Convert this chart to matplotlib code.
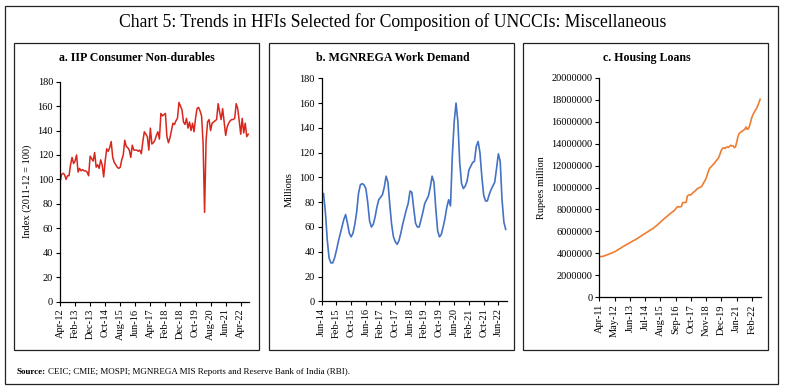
"""Chart 5: Trends in HFIs selected for composition of UNCCIs - miscellaneous."""
import matplotlib
matplotlib.use("Agg")
import matplotlib.pyplot as plt
from matplotlib.patches import Rectangle
from matplotlib.ticker import FuncFormatter

plt.rcParams["font.family"] = ["Liberation Serif", "DejaVu Serif"]

MONTHS = ["Jan", "Feb", "Mar", "Apr", "May", "Jun", "Jul", "Aug", "Sep", "Oct", "Nov", "Dec"]

# a. IIP consumer non-durables, monthly from Apr-12
IIP_START = (2012, 4)
IIP_VALUES = [
    97, 104, 105, 104, 100, 103, 103, 112, 118, 113, 115, 120,
    106, 109, 107, 108, 107, 107, 106, 103, 119, 117, 115, 122,
    110, 112, 109, 116, 112, 102, 115, 125, 123, 126, 131, 118,
    114, 112, 110, 109, 110, 116, 120, 132, 127, 126, 124, 118,
    128, 124, 124, 124, 123, 124, 121, 131, 139, 137, 135, 124,
    142, 129, 130, 132, 136, 139, 133, 154, 152, 153, 154, 135,
    130, 134, 140, 146, 145, 148, 150, 163, 160, 157, 147, 145,
    150, 142, 147, 140, 146, 139, 150, 158, 159, 156, 152, 130,
    73, 132, 147, 149, 140, 146, 147, 148, 149, 162, 155, 149,
    158, 147, 136, 143, 146, 148, 149, 149, 150, 162, 158, 148,
    137, 150, 138, 146, 135, 137,
]
IIP_TICK_STEP = 10

# b. MGNREGA work demand (millions), monthly from Jun-14
MGN_START = (2014, 6)
MGN_VALUES = [
    87, 87, 72, 50, 35, 31, 31, 35, 41, 48, 54, 60,
    66, 70, 63, 55, 52, 55, 62, 72, 87, 94, 95, 94,
    91, 80, 65, 60, 62, 68, 76, 82, 84, 86, 92, 101,
    96, 78, 62, 52, 48, 46, 49, 55, 62, 68, 74, 79,
    89, 88, 75, 63, 60, 60, 66, 72, 79, 82, 85, 92,
    101, 96, 75, 57, 52, 54, 60, 67, 76, 82, 77, 118,
    145, 160, 145, 112, 95, 91, 93, 97, 106, 109, 112, 113,
    125, 129, 120, 101, 86, 81, 81, 86, 90, 93, 96, 107,
    119, 113, 82, 64, 58,
]
MGN_TICK_STEP = 8

# c. Housing loans (rupees million, in units of 1e6), monthly from Apr-11
HL_START = (2011, 4)
HL_VALUES = [
    3.70, 3.70, 3.71, 3.73, 3.76, 3.80, 3.85, 3.88, 3.92, 3.96, 4.00, 4.05,
    4.10, 4.16, 4.20, 4.27, 4.33, 4.40, 4.46, 4.53, 4.61, 4.66, 4.72, 4.80,
    4.84, 4.90, 4.96, 5.02, 5.09, 5.16, 5.20, 5.26, 5.33, 5.40, 5.48, 5.55,
    5.60, 5.67, 5.75, 5.83, 5.88, 5.95, 6.02, 6.10, 6.16, 6.22, 6.28, 6.38,
    6.46, 6.55, 6.64, 6.74, 6.84, 6.94, 7.04, 7.13, 7.22, 7.30, 7.40, 7.50,
    7.58, 7.68, 7.76, 7.82, 7.92, 8.05, 8.20, 8.26, 8.22, 8.25, 8.28, 8.62,
    8.64, 8.62, 8.66, 9.22, 9.30, 9.35, 9.32, 9.45, 9.55, 9.62, 9.72, 9.85,
    9.92, 9.98, 10.02, 10.07, 10.25, 10.45, 10.62, 10.83, 11.15, 11.50, 11.75, 11.85,
    11.98, 12.10, 12.20, 12.35, 12.50, 12.60, 12.80, 13.10, 13.40, 13.57, 13.62, 13.55,
    13.65, 13.70, 13.65, 13.75, 13.85, 13.78, 13.80, 13.62, 13.70, 14.10, 14.60, 14.90,
    15.00, 15.08, 15.15, 15.22, 15.30, 15.52, 15.30, 15.35, 15.60, 16.00, 16.40, 16.65,
    16.85, 17.05, 17.20, 17.45, 17.75, 18.03,
]
HL_TICK_STEP = 13


def month_label(start, offset):
    y, m = start
    k = (m - 1) + offset
    return f"{MONTHS[k % 12]}-{(y + k // 12) % 100:02d}"


def style_axis(ax, start, n, step, xmax):
    ax.set_xlim(0, xmax)
    ticks = list(range(0, n, step))
    ax.set_xticks(ticks)
    ax.set_xticklabels([month_label(start, t) for t in ticks], rotation=90, fontsize=7.5)
    for s in ("top", "right"):
        ax.spines[s].set_visible(False)
    for s in ("left", "bottom"):
        ax.spines[s].set_linewidth(0.9)
    ax.tick_params(axis="both", direction="out", length=3, width=0.8, pad=2, labelsize=7.5)


fig = plt.figure(figsize=(7.85, 3.87), dpi=100)

# frames
fig.patches.append(Rectangle((5 / 785, 1 - 384 / 387), 773 / 785, 378 / 387,
                             transform=fig.transFigure, fill=False, lw=0.9, ec="#222222"))
for x0, x1 in [(14, 259), (269, 514), (523, 768)]:
    fig.patches.append(Rectangle((x0 / 785, 1 - 350 / 387), (x1 - x0) / 785, 307 / 387,
                                 transform=fig.transFigure, fill=False, lw=0.9, ec="#222222"))

fig.text(0.5, 1 - 22 / 387, "Chart 5: Trends in HFIs Selected for Composition of UNCCIs: Miscellaneous",
         ha="center", va="center", fontsize=12.7)

# a
ax = fig.add_axes([60 / 785, 1 - 301.5 / 387, 189 / 785, 219.8 / 387])
ax.plot(range(len(IIP_VALUES)), IIP_VALUES, color="#D9261C", lw=1.1)
ax.set_ylim(0, 180)
ax.set_yticks(range(0, 181, 20))
style_axis(ax, IIP_START, len(IIP_VALUES), IIP_TICK_STEP, len(IIP_VALUES) - 0.5)
ax.set_ylabel("Index (2011-12 = 100)", fontsize=7.5, labelpad=4)
fig.text(137 / 785, 1 - 58 / 387, "a. IIP Consumer Non-durables", ha="center", va="center",
         fontsize=8.6, fontweight="bold")

# b
ax = fig.add_axes([321.7 / 785, 1 - 301.3 / 387, 185.3 / 785, 223 / 387])
ax.plot(range(len(MGN_VALUES)), MGN_VALUES, color="#4472C4", lw=1.2)
ax.set_ylim(0, 180)
ax.set_yticks(range(0, 181, 20))
style_axis(ax, MGN_START, len(MGN_VALUES), MGN_TICK_STEP, len(MGN_VALUES) - 0.3)
ax.set_ylabel("Millions", fontsize=7.5, labelpad=4)
fig.text(393 / 785, 1 - 58 / 387, "b. MGNREGA Work Demand", ha="center", va="center",
         fontsize=8.6, fontweight="bold")

# c
ax = fig.add_axes([599.3 / 785, 1 - 297.3 / 387, 161.4 / 785, 219.6 / 387])
ax.plot(range(len(HL_VALUES)), [v * 1e6 for v in HL_VALUES], color="#ED7D31", lw=1.2)
ax.set_ylim(0, 20e6)
ax.set_yticks([i * 2e6 for i in range(11)])
ax.yaxis.set_major_formatter(FuncFormatter(lambda v, _: f"{int(round(v))}"))
style_axis(ax, HL_START, len(HL_VALUES), HL_TICK_STEP, len(HL_VALUES) - 0.5)
ax.set_ylabel("Rupees million", fontsize=7.5, labelpad=4)
fig.text(647 / 785, 1 - 58 / 387, "c. Housing Loans", ha="center", va="center",
         fontsize=8.6, fontweight="bold")

src = fig.text(17 / 785, 1 - 372 / 387, "Source:", ha="left", va="center", fontsize=6.5,
               fontweight="bold")
fig.canvas.draw()
bb = src.get_window_extent()
fig.text(bb.x1 / 785 + 0.003, 1 - 372 / 387,
         "CEIC; CMIE; MOSPI; MGNREGA MIS Reports and Reserve Bank of India (RBI).",
         ha="left", va="center", fontsize=6.5)

fig.savefig("out.png", dpi=100)
